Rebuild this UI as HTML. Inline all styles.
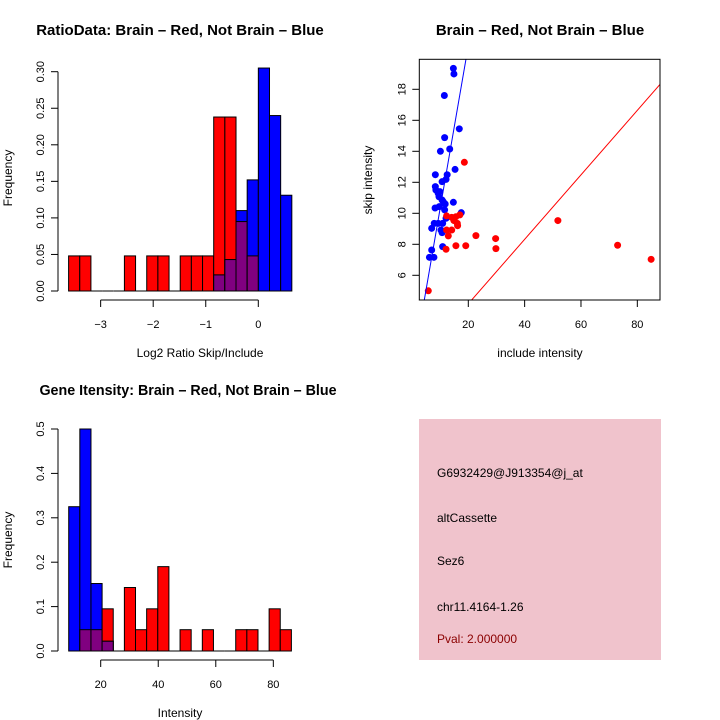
<!DOCTYPE html>
<html><head><meta charset="utf-8"><style>
body{margin:0;background:#fff;}
svg{display:block;font-family:"Liberation Sans",sans-serif;}
</style></head><body>
<svg id="s" width="720" height="720" viewBox="0 0 720 720">
<rect width="720" height="720" fill="#fff"/>
<text x="180" y="35" text-anchor="middle" font-size="15" font-weight="bold">RatioData: Brain – Red, Not Brain – Blue</text>
<text x="540" y="35" text-anchor="middle" font-size="15" font-weight="bold">Brain – Red, Not Brain – Blue</text>
<text x="188" y="395" text-anchor="middle" font-size="14.3" font-weight="bold">Gene Itensity: Brain – Red, Not Brain – Blue</text>
<text x="200" y="357" text-anchor="middle" font-size="12">Log2 Ratio Skip/Include</text>
<text x="12" y="178" text-anchor="middle" font-size="12" transform="rotate(-90 12 178)">Frequency</text>
<text x="540" y="357" text-anchor="middle" font-size="12">include intensity</text>
<text x="372" y="180" text-anchor="middle" font-size="12" transform="rotate(-90 372 180)">skip intensity</text>
<text x="180" y="717" text-anchor="middle" font-size="12">Intensity</text>
<text x="12" y="540" text-anchor="middle" font-size="12" transform="rotate(-90 12 540)">Frequency</text>
<rect x="419" y="419" width="242" height="241" fill="#f0c3cc"/>
<g font-size="12">
<text x="437" y="477">G6932429@J913354@j_at</text>
<text x="437" y="522">altCassette</text>
<text x="437" y="565">Sez6</text>
<text x="437" y="611">chr11.4164-1.26</text>
<text x="437" y="643" fill="#8b0000">Pval: 2.000000</text>
</g>
</svg>
<script>
// Ratio histogram data
const ratioStart = -3.61, ratioBinWidth = 0.2124;
const ratioRed  = [0.048,0.048,0,0,0,0.048,0,0.048,0.048,0,0.048,0.048,0.048,0.238,0.238,0.095,0.048,0,0,0];
const ratioBlue = [0,0,0,0,0,0,0,0,0,0,0,0,0,0.022,0.043,0.11,0.152,0.305,0.24,0.131];
const ratioXTicks = [-3,-2,-1,0];
const ratioYTicks = [0,0.05,0.10,0.15,0.20,0.25,0.30];
const ratioYLabels = ["0.00","0.05","0.10","0.15","0.20","0.25","0.30"];
// Intensity histogram data
const intStart = 8.88, intBinWidth = 3.87;
const intRed  = [0,0.048,0.048,0.095,0,0.143,0.048,0.095,0.19,0,0.048,0,0.048,0,0,0.048,0.048,0,0.095,0.048];
const intBlue = [0.325,0.5,0.152,0.022,0,0,0,0,0,0,0,0,0,0,0,0,0,0,0,0];
const intXTicks = [20,40,60,80];
const intYTicks = [0,0.1,0.2,0.3,0.4,0.5];
const intYLabels = ["0.0","0.1","0.2","0.3","0.4","0.5"];
// Scatter data
const blueX = [14.7,14.9,11.5,16.8,11.6,10.1,13.4,15.3,8.3,12.5,12.1,10.7,8.3,8.5,9.3,9.9,9.6,10.7,11.1,11.8,14.7,8.2,9.7,11.6,17.5,12.1,7.9,9.3,10.9,7.0,10.3,10.7,7.0,10.9,6.2,7.8];
const blueY = [19.35,18.99,17.6,15.45,14.88,14.0,14.15,12.83,12.49,12.49,12.19,12.04,11.72,11.5,11.29,11.4,11.07,10.86,10.75,10.6,10.71,10.34,10.43,10.22,10.04,9.68,9.35,9.35,9.35,9.03,8.92,8.75,7.63,7.85,7.16,7.16];
const redX = [5.8,18.6,51.8,73.0,84.9,22.7,29.7,29.8,19.1,15.6,12.1,12.9,12.3,14.1,16.1,16.2,12.3,14.1,15.6,17.0,14.9];
const redY = [5.0,13.29,9.53,7.94,7.03,8.56,8.37,7.72,7.91,7.91,7.68,8.54,8.92,8.92,9.35,9.2,9.83,9.74,9.78,9.9,9.53];
const blueFit = [1.05,-0.19];
const redFit = [0.208,0];
const scXTicks = [20,40,60,80];
const scYTicks = [6,8,10,12,14,16,18];

const svg = document.getElementById('s');
const NS = 'http://www.w3.org/2000/svg';
function mk(tag, at, parent){const e=document.createElementNS(NS,tag);for(const k in at)e.setAttribute(k,at[k]);(parent||svg).appendChild(e);return e;}

function hist(cfg){
  const g = mk('g',{});
  
  
  const X = v => cfg.x0 + (v - cfg.xv0) * cfg.xs;
  const Y = v => cfg.y0 - v * cfg.ys;
  const n = cfg.red.length;
  for(let i=0;i<n;i++){
    const l = X(cfg.start + i*cfg.bw), r = X(cfg.start + (i+1)*cfg.bw);
    const rv = cfg.red[i], bv = cfg.blue[i];
    if(rv>0){const e=mk('rect',{x:l,y:Y(rv),width:r-l,height:Y(0)-Y(rv),fill:'#ff0000',stroke:'#000','stroke-width':1},g);
      
      }
    if(bv>0){const e=mk('rect',{x:l,y:Y(bv),width:r-l,height:Y(0)-Y(bv),fill:'#0000ff',stroke:'#000','stroke-width':1},g);
      
      }
    const m = Math.min(rv,bv);
    if(m>0){const e=mk('rect',{x:l,y:Y(m),width:r-l,height:Y(0)-Y(m),fill:'#800080',stroke:'#000','stroke-width':1},g);
      
      }
    if(rv===0&&bv===0) mk('line',{x1:l,x2:r,y1:Y(0),y2:Y(0),stroke:'#000'},g);
  }
  const ax = mk('g',{stroke:'#000',fill:'none'},g);
  
  
  const yt = cfg.yTicks;
  mk('line',{x1:cfg.yAxisX,x2:cfg.yAxisX,y1:Y(yt[0]),y2:Y(yt[yt.length-1])},ax);
  yt.forEach((t,i)=>{
    mk('line',{x1:cfg.yAxisX-7,x2:cfg.yAxisX,y1:Y(t),y2:Y(t)},ax);
    const tx = mk('text',{x:cfg.yAxisX-14,y:Y(t),'text-anchor':'middle','font-size':11,fill:'#000',stroke:'none',transform:`rotate(-90 ${cfg.yAxisX-14} ${Y(t)})`},g);
    tx.textContent = cfg.yLabels[i];
  });
  const xa = mk('g',{stroke:'#000'},g);
  
  
  const xt = cfg.xTicks;
  mk('line',{x1:X(xt[0]),x2:X(xt[xt.length-1]),y1:cfg.xAxisY,y2:cfg.xAxisY},xa);
  xt.forEach(t=>{
    mk('line',{x1:X(t),x2:X(t),y1:cfg.xAxisY,y2:cfg.xAxisY+7},xa);
    const tx = mk('text',{x:X(t),y:cfg.xAxisY+28,'text-anchor':'middle','font-size':11,stroke:'none',fill:'#000'},g);
    tx.textContent = t<0 ? '\u2212'+Math.abs(t) : String(t);
  });
}
hist({name:'ratio-histogram',start:ratioStart,bw:ratioBinWidth,red:ratioRed,blue:ratioBlue,
  x0:258.3,xv0:0,xs:52.55,y0:291,ys:731,yAxisX:58,xAxisY:300,xTicks:ratioXTicks,yTicks:ratioYTicks,yLabels:ratioYLabels});
hist({name:'intensity-histogram',start:intStart,bw:intBinWidth,red:intRed,blue:intBlue,
  x0:100.7,xv0:20,xs:2.877,y0:651,ys:444,yAxisX:58,xAxisY:660,xTicks:intXTicks,yTicks:intYTicks,yLabels:intYLabels});

// scatter
(function(){
  const g = mk('g',{});
  
  
  const X = v => 468.3 + (v-20)*2.817;
  const Y = v => 89.3 - (v-18)*15.5;
  const L=419.3,R=660,T=59.3,B=300;
  const cp = mk('clipPath',{id:'clipS'},g); mk('rect',{x:L,y:T,width:R-L,height:B-T},cp);
  const pts = mk('g',{'clip-path':'url(#clipS)'},g);
  blueX.forEach((x,i)=>{const c=mk('circle',{cx:X(x),cy:Y(blueY[i]),r:3.5,fill:'#0000ff'},pts);
    
    });
  redX.forEach((x,i)=>{const c=mk('circle',{cx:X(x),cy:Y(redY[i]),r:3.5,fill:'#ff0000'},pts);
    
    });
  const xa=0, xb=100;
  const bl = mk('line',{x1:X(xa),y1:Y(blueFit[0]*xa+blueFit[1]),x2:X(xb),y2:Y(blueFit[0]*xb+blueFit[1]),stroke:'#0000ff','stroke-width':1},pts);
  
  
  const rl = mk('line',{x1:X(xa),y1:Y(redFit[0]*xa+redFit[1]),x2:X(xb),y2:Y(redFit[0]*xb+redFit[1]),stroke:'#ff0000','stroke-width':1},pts);
  
  
  const box = mk('rect',{x:L,y:T,width:R-L,height:B-T,fill:'none',stroke:'#000'},g);
  
  
  scXTicks.forEach(t=>{mk('line',{x1:X(t),x2:X(t),y1:B,y2:B+7,stroke:'#000'},g);
    const tx=mk('text',{x:X(t),y:B+28,'text-anchor':'middle','font-size':11},g);tx.textContent=t;});
  scYTicks.forEach(t=>{mk('line',{x1:L-7,x2:L,y1:Y(t),y2:Y(t),stroke:'#000'},g);
    const tx=mk('text',{x:L-14,y:Y(t),'text-anchor':'middle','font-size':11,transform:`rotate(-90 ${L-14} ${Y(t)})`},g);tx.textContent=t;});
})();
</script>
</body></html>
